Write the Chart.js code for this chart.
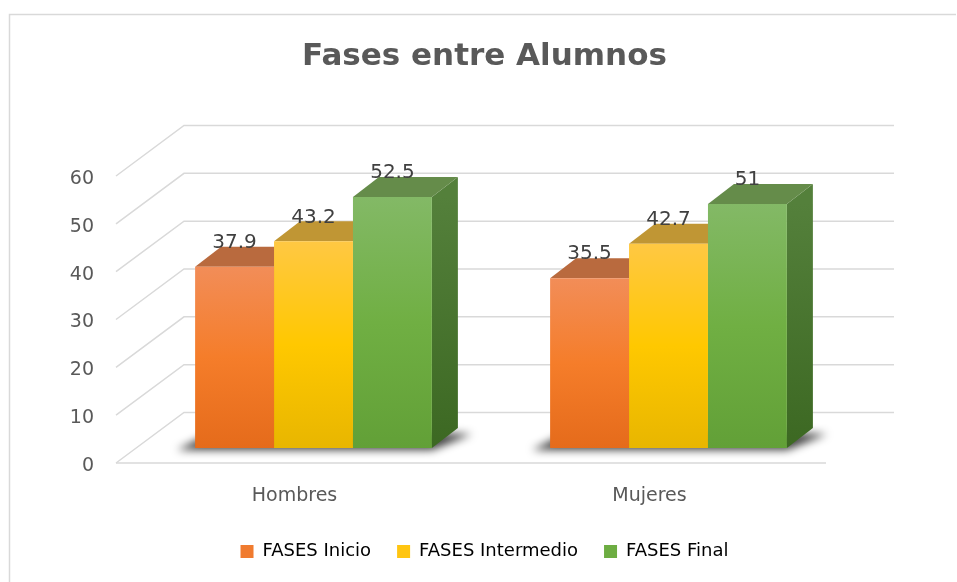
<!DOCTYPE html>
<html>
<head>
<meta charset="utf-8">
<title>Fases entre Alumnos</title>
<script src="https://cdn.jsdelivr.net/npm/chart.js@4.4.1/dist/chart.umd.min.js"></script>
<style>
  html, body { margin: 0; padding: 0; background: #fff; overflow: hidden; }
  #chart { display: block; }
</style>
</head>
<body>
<canvas id="chart" width="957" height="582"></canvas>
<script>
// Datos del grafico
const categorias = ['Hombres', 'Mujeres'];
const series = ['FASES Inicio', 'FASES Intermedio', 'FASES Final'];
const fasesInicio = [37.9, 35.5];
const fasesIntermedio = [43.2, 42.7];
const fasesFinal = [52.5, 51];
const ticksY = [0, 10, 20, 30, 40, 50, 60];

// Colores: frente [arriba, medio, abajo], tapa, lateral [arriba, abajo]
const colores = [
    { frente: ['#F28D58', '#F57D2A', '#E56B1B'], tapa: '#B96A3E', lado: ['#A9592C', '#8C4519'], leyenda: '#F07B2F' },
    { frente: ['#FFC843', '#FFC800', '#E8B600'], tapa: '#C09634', lado: ['#B08A1E', '#8F700F'], leyenda: '#FFC511' },
    { frente: ['#83B966', '#70AF43', '#62A037'], tapa: '#658C4A', lado: ['#54803B', '#3C6822'], leyenda: '#6DAD42' }
];

const FUENTE = '"DejaVu Sans", sans-serif';
const GRIS = '#595959';
const LINEA = '#d9d9d9';

// profundidad de las barras y del suelo/pared
const BARRA_DX = 26, BARRA_DY = -20;
const FRENTE = { dx: -20, dy: 15 };
const FONDO = { dx: 48, dy: -35.5 };

function rellenoFrente(stops) {
    return (ctx) => {
        const chart = ctx.chart;
        if (!chart.chartArea || ctx.type !== 'data') return stops[1];
        const y = chart.scales.y;
        const top = y.getPixelForValue(ctx.raw);
        const g = chart.ctx.createLinearGradient(0, top, 0, y.getPixelForValue(0));
        g.addColorStop(0, stops[0]);
        g.addColorStop(0.5, stops[1]);
        g.addColorStop(1, stops[2]);
        return g;
    };
}

const efecto3D = {
    id: 'efecto3D',
    beforeDraw(chart) {
        const ctx = chart.ctx;
        ctx.save();
        ctx.strokeStyle = LINEA;
        ctx.lineWidth = 1.5;
        ctx.beginPath();
        ctx.moveTo(9.5, 582);
        ctx.lineTo(9.5, 14.5);
        ctx.lineTo(956, 14.5);
        ctx.stroke();
        ctx.restore();
    },
    beforeDatasetsDraw(chart) {
        const { ctx, chartArea: a, scales: { y } } = chart;

        // rejilla en perspectiva
        ctx.save();
        ctx.strokeStyle = LINEA;
        ctx.lineWidth = 1.5;
        y.ticks.forEach(t => {
            const py = y.getPixelForValue(t.value);
            ctx.beginPath();
            ctx.moveTo(a.left + FRENTE.dx, py + FRENTE.dy);
            ctx.lineTo(a.left + FONDO.dx, py + FONDO.dy);
            ctx.lineTo(a.right + FONDO.dx, py + FONDO.dy);
            ctx.stroke();
        });
        const p0 = y.getPixelForValue(ticksY[0]);
        ctx.beginPath();
        ctx.moveTo(a.left + FRENTE.dx, p0 + FRENTE.dy);
        ctx.lineTo(a.right + FRENTE.dx, p0 + FRENTE.dy);
        ctx.stroke();
        ctx.restore();

        const metas = chart.getSortedVisibleDatasetMetas();

        // sombra bajo cada grupo
        categorias.forEach((c, i) => {
            const primero = metas[0].data[i];
            const ultimo = metas[metas.length - 1].data[i];
            const left = primero.x - primero.width / 2;
            const right = ultimo.x + ultimo.width / 2;
            const base = primero.base;
            ctx.save();
            ctx.filter = 'blur(4px)';
            ctx.fillStyle = 'rgba(0,0,0,0.75)';
            ctx.beginPath();
            ctx.moveTo(left - 18, base + 2);
            ctx.lineTo(right, base + 2);
            ctx.lineTo(right + BARRA_DX + 14, base + BARRA_DY + 6);
            ctx.lineTo(left + BARRA_DX, base + BARRA_DY);
            ctx.closePath();
            ctx.fill();
            ctx.restore();
        });

        // tapas y laterales (el frente lo pinta Chart.js encima)
        metas.forEach((meta, d) => {
            const col = colores[d];
            meta.data.forEach(bar => {
                const left = bar.x - bar.width / 2;
                const right = bar.x + bar.width / 2;
                const top = bar.y, base = bar.base;

                const g = ctx.createLinearGradient(0, top, 0, base);
                g.addColorStop(0, col.lado[0]);
                g.addColorStop(1, col.lado[1]);
                ctx.fillStyle = g;
                ctx.beginPath();
                ctx.moveTo(right, top);
                ctx.lineTo(right + BARRA_DX, top + BARRA_DY);
                ctx.lineTo(right + BARRA_DX, base + BARRA_DY);
                ctx.lineTo(right, base);
                ctx.closePath();
                ctx.fill();

                ctx.fillStyle = col.tapa;
                ctx.beginPath();
                ctx.moveTo(left, top);
                ctx.lineTo(left + BARRA_DX, top + BARRA_DY);
                ctx.lineTo(right + BARRA_DX, top + BARRA_DY);
                ctx.lineTo(right, top);
                ctx.closePath();
                ctx.fill();
            });
        });
    },
    afterDatasetsDraw(chart) {
        const ctx = chart.ctx;
        ctx.save();
        ctx.font = '20px ' + FUENTE;
        ctx.fillStyle = '#404040';
        ctx.textAlign = 'center';
        ctx.textBaseline = 'middle';
        chart.getSortedVisibleDatasetMetas().forEach((meta, d) => {
            meta.data.forEach((bar, i) => {
                ctx.fillText(String(chart.data.datasets[d].data[i]), bar.x, bar.y - 24);
            });
        });
        ctx.restore();
    }
};

const valores = [fasesInicio, fasesIntermedio, fasesFinal];

new Chart(document.getElementById('chart'), {
    type: 'bar',
    data: {
        labels: categorias,
        datasets: series.map((nombre, d) => ({
            label: nombre,
            data: valores[d],
            backgroundColor: rellenoFrente(colores[d].frente),
            borderWidth: 0,
            categoryPercentage: 0.667,
            barPercentage: 1.0
        }))
    },
    options: {
        responsive: false,
        animation: false,
        layout: { padding: { left: 12, right: 0, top: 0, bottom: 11.5 } },
        plugins: {
            title: {
                display: true,
                text: 'Fases entre Alumnos',
                color: GRIS,
                font: { family: FUENTE, size: 31, weight: 'bold' },
                padding: { top: 38.5, bottom: 85.3 }
            },
            legend: {
                position: 'bottom',
                labels: {
                    boxWidth: 13,
                    boxHeight: 13,
                    padding: 26,
                    color: GRIS,
                    font: { family: FUENTE, size: 18 },
                    generateLabels: (chart) => chart.data.datasets.map((ds, d) => ({
                        text: ds.label,
                        fillStyle: colores[d].leyenda,
                        strokeStyle: colores[d].leyenda,
                        lineWidth: 0,
                        datasetIndex: d
                    }))
                }
            },
            tooltip: { enabled: false }
        },
        scales: {
            x: {
                grid: { display: false, drawTicks: false },
                border: { display: false },
                ticks: { color: GRIS, font: { family: FUENTE, size: 19 }, padding: 37, labelOffset: -19 },
                afterFit: (s) => { s.height = 68.5; }
            },
            y: {
                min: ticksY[0],
                max: ticksY[ticksY.length - 1],
                grid: { display: false, drawTicks: false },
                border: { display: false },
                ticks: { color: GRIS, font: { family: FUENTE, size: 19 }, padding: 42, labelOffset: 18 },
                afterBuildTicks: (s) => { s.ticks = ticksY.map(v => ({ value: v })); },
                afterFit: (s) => { s.width = 124; }
            },
            // eje vacio a la derecha: reserva el margen sin descentrar titulo y leyenda
            margenDer: {
                type: 'linear',
                axis: 'y',
                position: 'right',
                grid: { display: false, drawTicks: false },
                border: { display: false },
                ticks: { display: false },
                afterFit: (s) => { s.width = 111; }
            }
        }
    },
    plugins: [efecto3D]
});
</script>
</body>
</html>
